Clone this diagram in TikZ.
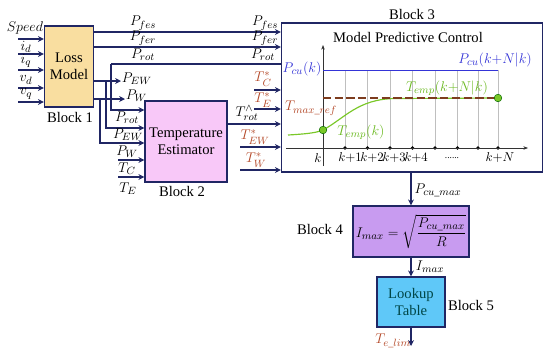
\documentclass[tikz,border=0pt]{standalone}
\usepackage{amsmath}
\usepackage{fontspec}
\setmainfont{Liberation Serif}
\usetikzlibrary{arrows.meta,positioning,calc}
\definecolor{navy}{RGB}{32,38,100}
\definecolor{tred}{RGB}{180,72,40}
\definecolor{pblue}{RGB}{52,52,215}
\definecolor{cgreen}{RGB}{122,200,40}
\definecolor{lgreen}{RGB}{105,185,30}
\definecolor{tbrown}{RGB}{125,60,30}
\definecolor{lossfill}{RGB}{249,222,160}
\definecolor{tempfill}{RGB}{248,200,248}
\definecolor{ifill}{RGB}{200,155,240}
\definecolor{lutfill}{RGB}{95,200,248}
\tikzset{
  blk/.style={draw=navy,line width=1.2pt,align=center,inner sep=2pt,font=\fontsize{12.5}{14.5}\selectfont},
  lbl/.style={inner sep=0.5pt,font=\fontsize{12.5}{14.5}\selectfont},
  conn/.style={draw=navy,line width=1.3pt,-{Stealth[length=5pt,width=5pt]}},
  wire/.style={draw=navy,line width=1.3pt},
  axis/.style={draw=black!80,line width=0.5pt,-{Stealth[length=4pt,width=3pt]}}
}
\begin{document}
\begin{tikzpicture}[x=0.3mm,y=-0.3mm]
  \useasboundingbox (0,0) rectangle (550,353);

  % Block 1: loss model
  \node[blk,fill=lossfill,minimum width=14.7mm,minimum height=24.3mm]
    (B1) at (69,66.5) {Loss\\Model};
  \node[lbl] (B1lab) at (70,117) {Block 1};

  % Block 2: temperature estimator
  \node[blk,fill=tempfill,minimum width=24.6mm,minimum height=24.3mm]
    (B2) at (186,141.5) {Temperature\\Estimator};
  \node[lbl] (B2lab) at (182,191) {Block 2};

  % Block 3: model predictive control
  \node[blk,fill=white,minimum width=78.3mm,minimum height=44.7mm]
    (B3) at (412,97.5) {};
  \node[lbl] (B3lab) at (412,14) {Block 3};
  \node[lbl] (mpc) at (408,37) {Model Predictive Control};

  % Block 4: current limit
  \node[blk,fill=ifill,minimum width=34.8mm,minimum height=15.3mm]
    (B4) at (411,231.5) {$I_{max}=\sqrt{\dfrac{P_{cu\_max}}{R}}$};
  \node[lbl] (B4lab) at (320,229) {Block 4};

  % Block 5: lookup table
  \node[blk,fill=lutfill,text=teal!55!black,minimum width=20.4mm,minimum height=15mm]
    (B5) at (411,302) {Lookup\\Table};
  \node[lbl] (B5lab) at (471,305) {Block 5};

  % Inputs of block 1
  \coordinate (inspd) at (18,39);
  \coordinate (inid) at (18,54);
  \coordinate (iniq) at (18,70);
  \coordinate (invd) at (18,88);
  \coordinate (invq) at (18,102);
  \draw[conn] (inspd) -- (B1.west |- inspd);
  \draw[conn] (inid) -- (B1.west |- inid);
  \draw[conn] (iniq) -- (B1.west |- iniq);
  \draw[conn] (invd) -- (B1.west |- invd);
  \draw[conn] (invq) -- (B1.west |- invq);
  \node[lbl] (lspd) at (25,28) {$Speed$};
  \node[lbl] (lid) at (26,47) {$i_d$};
  \node[lbl] (liq) at (26,61) {$i_q$};
  \node[lbl] (lvd) at (26,80) {$v_d$};
  \node[lbl] (lvq) at (26,94) {$v_q$};

  % Losses to block 3
  \draw[conn] (B1.east |- 0,32) -- (B3.west |- 0,32);
  \draw[conn] (B1.east |- 0,47) -- (B3.west |- 0,47);
  \coordinate (rotj) at (111,64);
  \draw[wire] (rotj) -- (B3.west |- rotj);
  \node[lbl] (lfes1) at (143,23) {$P_{fes}$};
  \node[lbl] (lfes2) at (265,23) {$P_{fes}$};
  \node[lbl] (lfer1) at (143,38) {$P_{fer}$};
  \node[lbl] (lfer2) at (265,38) {$P_{fer}$};
  \node[lbl] (lrot1) at (143,55) {$P_{rot}$};
  \node[lbl] (lrot2) at (263,55) {$P_{rot}$};

  % Losses to block 2
  \node[lbl,anchor=west] (lew) at (121,79) {$P_{EW}$};
  \node[lbl,anchor=west] (lw) at (125,96) {$P_{W}$};
  \draw[conn] (B1.east |- 0,81) -- (lew.west |- 0,81);
  \draw[conn] (B1.east |- 0,99) -- (lw.west |- 0,99);
  \coordinate (ewj) at (106,81);
  \coordinate (wj) at (100,99);
  \draw[conn] (rotj) |- (B2.west |- 0,110);
  \draw[conn] (ewj) |- (B2.west |- 0,128);
  \draw[conn] (wj) |- (B2.west |- 0,143);
  \coordinate (inTC) at (118,160);
  \coordinate (inTE) at (118,177);
  \draw[conn] (inTC) -- (B2.west |- inTC);
  \draw[conn] (inTE) -- (B2.west |- inTE);
  \node[lbl] (lrot3) at (127,118) {$P_{rot}$};
  \node[lbl] (lew2) at (128,135) {$P_{EW}$};
  \node[lbl] (lw2) at (127,152) {$P_{W}$};
  \node[lbl] (ltc) at (127,169) {$T_{C}$};
  \node[lbl] (lte) at (128,189) {$T_{E}$};

  % Temperatures to block 3
  \coordinate (inTCs) at (254,90);
  \coordinate (inTEs) at (254,109);
  \coordinate (inTEWs) at (240,147);
  \coordinate (inTWs) at (240,170);
  \draw[conn] (inTCs) -- (B3.west |- inTCs);
  \draw[conn] (inTEs) -- (B3.west |- inTEs);
  \draw[conn] (B2.east |- 0,124) -- (B3.west |- 0,124);
  \draw[conn] (inTEWs) -- (B3.west |- inTEWs);
  \draw[conn] (inTWs) -- (B3.west |- inTWs);
  \node[lbl,text=tred] (ltcs) at (263,79) {$T^{*}_{C}$};
  \node[lbl,text=tred] (ltes) at (263,100) {$T^{*}_{E}$};
  \node[lbl] (ltrot) at (247,113) {$T^{\wedge}_{rot}$};
  \node[lbl,text=tred] (ltews) at (255,137) {$T^{*}_{EW}$};
  \node[lbl,text=tred] (ltws) at (256,160) {$T^{*}_{W}$};

  % Prediction chart
  \coordinate (O) at (323,148);
  \foreach \x in {345,367.5,390,412.5,435,457.5,478,498} {
    \draw[black!25,line width=0.4pt] (\x,70) -- (\x,148);
    \fill (\x,148) circle (1.6pt);
  }
  \draw[axis] (O |- 0,166) -- (O |- 0,45);
  \draw[axis] (286,148) -- (528,148);
  \draw[pblue,line width=0.7pt] (323,70) -- (498,70);
  \draw[cgreen,line width=1pt] (288,135) .. controls (305,134) and (316,133) .. (323,130)
    .. controls (345,118) and (358,99) .. (395,98.5) -- (498,98);
  \draw[tbrown,line width=1.2pt,dash pattern=on 7pt off 3pt] (323,98) -- (498,98);
  \node[circle,fill=cgreen,draw=green!40!black,line width=0.4pt,inner sep=0pt,minimum size=6.5pt]
    (dotk) at (323,130) {};
  \node[circle,fill=cgreen,draw=green!40!black,line width=0.4pt,inner sep=0pt,minimum size=6.5pt]
    (dotn) at (498,98) {};
  \node[lbl,text=pblue] (lpcu) at (302,69) {$P_{cu}(k)$};
  \node[lbl,text=pblue] (lpcun) at (495,60) {$P_{cu}(k{+}N|k)$};
  \node[lbl,text=lgreen] (ltempn) at (447,88) {$T_{emp}(k{+}N|k)$};
  \node[lbl,text=lgreen] (ltemp) at (361,132) {$T_{emp}(k)$};
  \node[lbl,text=tred] (ltmax) at (311,108) {$T_{max\_ref}$};
  \node[lbl,font=\fontsize{10.5}{12}\selectfont] (tk) at (318,158) {$k$};
  \node[lbl,font=\fontsize{10.5}{12}\selectfont] (tk1) at (350,158) {$k{+}1$};
  \node[lbl,font=\fontsize{10.5}{12}\selectfont] (tk2) at (372,158) {$k{+}2$};
  \node[lbl,font=\fontsize{10.5}{12}\selectfont] (tk3) at (394,158) {$k{+}3$};
  \node[lbl,font=\fontsize{10.5}{12}\selectfont] (tk4) at (416,158) {$k{+}4$};
  \node[lbl,font=\fontsize{8}{9}\selectfont] (tkd) at (452,158) {......};
  \node[lbl,font=\fontsize{10.5}{12}\selectfont] (tkn) at (500,158) {$k{+}N$};

  % Limit chain
  \draw[conn] (B3.south -| B4.north) -- (B4.north);
  \draw[conn] (B4.south) -- (B5.north);
  \coordinate (tout) at (411,346);
  \draw[conn] (B5.south) -- (tout);
  \node[lbl] (lpmax) at (438,190) {$P_{cu\_max}$};
  \node[lbl] (limax) at (430,267) {$I_{max}$};
  \node[lbl,text=tred] (ltlim) at (393,341) {$T_{e\_lim}$};
\end{tikzpicture}
\end{document}
